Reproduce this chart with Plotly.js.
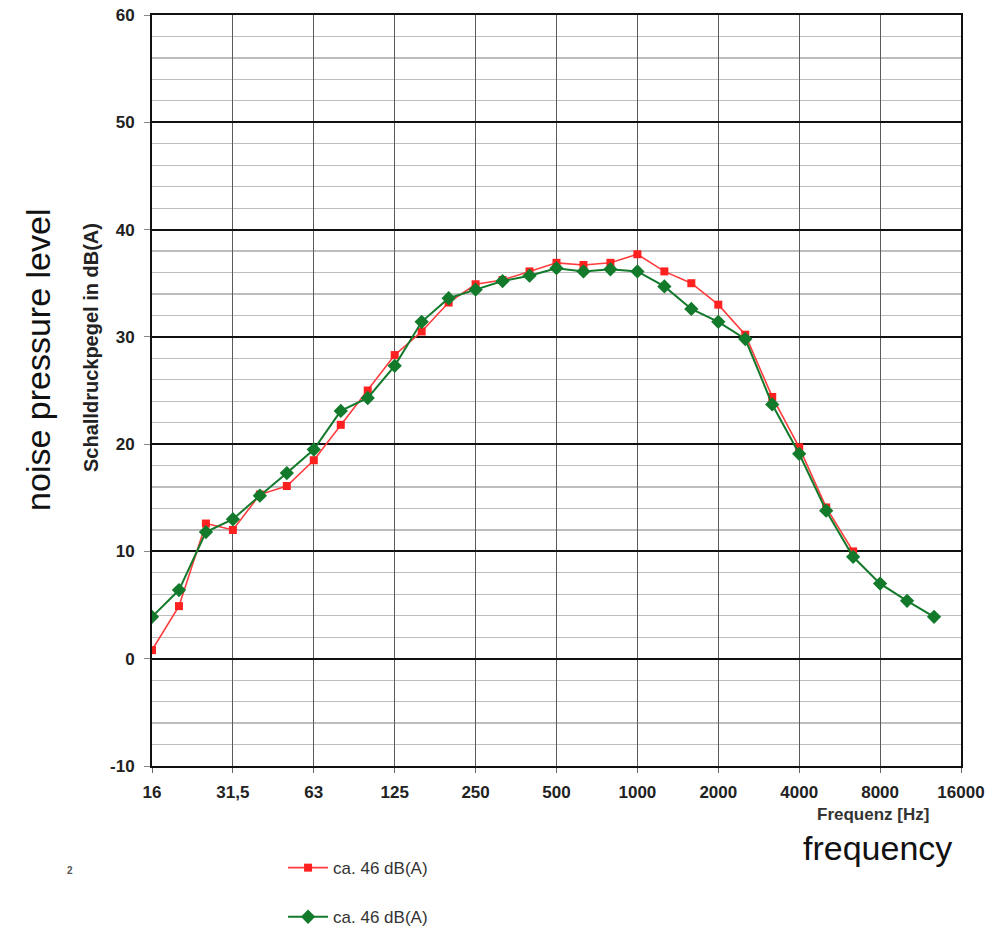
<!DOCTYPE html>
<html>
<head>
<meta charset="utf-8">
<script src="https://cdn.plot.ly/plotly-3.0.1.min.js"></script>
<style>
html,body{margin:0;padding:0;background:#fff;}
#chart{width:1006px;height:928px;}
</style>
</head>
<body>
<div id="chart"></div>
<script>
// Third-octave band centres (category axis, equally spaced like the original)
const bands = ["16","20","25","31,5","40","50","63","80","100","125","160","200","250","315","400","500","630","800","1000","1250","1600","2000","2500","3150","4000","5000","6300","8000","10000","12500","16000"];
const octaveTicks = ["16","31,5","63","125","250","500","1000","2000","4000","8000","16000"];
const yTickVals = [-10,0,10,20,30,40,50,60];
const yTickText = ["-10","0","10","20","30","40","50","60"];

const redName = "ca. 46 dB(A)";
const redValues = [0.8,4.9,12.6,12.0,15.3,16.1,18.5,21.8,25.0,28.3,30.5,33.2,34.9,35.3,36.1,36.9,36.7,36.9,37.7,36.1,35.0,33.0,30.2,24.4,19.7,14.1,10.0];

const greenName = "ca. 46 dB(A)";
const greenValues = [3.9,6.4,11.8,13.0,15.2,17.3,19.5,23.1,24.3,27.3,31.4,33.6,34.4,35.2,35.7,36.4,36.1,36.3,36.1,34.7,32.6,31.4,29.8,23.7,19.1,13.8,9.5,7.0,5.4,3.9];

const FONT = "Liberation Sans, Arial, sans-serif";

const traces = [
  {
    x: bands.slice(0, redValues.length), y: redValues, name: redName,
    type: "scatter", mode: "lines+markers", legendgroup: "a",
    line: {color: "#ff3b3b", width: 1.6},
    marker: {symbol: "square", size: 8, color: "#ff2020"}
  },
  {
    x: bands.slice(0, greenValues.length), y: greenValues, name: greenName,
    type: "scatter", mode: "lines+markers", legendgroup: "b",
    line: {color: "#137a2c", width: 2},
    marker: {symbol: "diamond", size: 11, color: "#137a2c"}
  }
];

const layout = {
  width: 1006, height: 928,
  margin: {l: 152, r: 45, t: 15, b: 162, autoexpand: false},
  paper_bgcolor: "#fff", plot_bgcolor: "#fff",
  font: {family: FONT, color: "#222"},
  showlegend: true,
  legend: {
    x: 0.162, y: -0.112, xanchor: "left", yanchor: "top",
    itemwidth: 40,
    tracegroupgap: 24, font: {size: 17, color: "#333", family: FONT},
    bgcolor: "rgba(0,0,0,0)"
  },
  xaxis: {
    type: "category", categoryorder: "array", categoryarray: bands,
    range: [0, bands.length - 1],
    tickmode: "array", tickvals: octaveTicks, ticktext: octaveTicks,
    showgrid: true, gridcolor: "#5a5a5a", gridwidth: 1,
    ticks: "outside", ticklen: 5, tickcolor: "#666",
    ticklabelstandoff: 5,
    tickfont: {size: 17, color: "#222", family: FONT, weight: "bold"},
    showline: true, linecolor: "#111", linewidth: 2, mirror: true,
    zeroline: false
  },
  yaxis: {
    range: [-10, 60],
    tickmode: "array", tickvals: yTickVals, ticktext: yTickText,
    showgrid: true, gridcolor: "#111", gridwidth: 2,
    minor: {dtick: 2, tick0: 0, showgrid: true, gridcolor: "#bdbdbd", gridwidth: 1.2},
    ticks: "outside", ticklen: 6, tickcolor: "#888",
    ticklabelstandoff: 6,
    tickfont: {size: 17, color: "#222", family: FONT, weight: "bold"},
    showline: true, linecolor: "#111", linewidth: 2, mirror: true,
    zeroline: false
  },
  annotations: [
    {text: "Schalldruckpegel in dB(A)", xref: "paper", yref: "paper", x: -0.0754, y: 0.5566,
     xanchor: "center", yanchor: "middle", showarrow: false, textangle: -90,
     font: {size: 20, color: "#222", family: FONT, weight: "bold"}},
    {text: "Frequenz [Hz]", xref: "paper", yref: "paper", x: 0.891, y: -0.0645,
     xanchor: "center", yanchor: "middle", showarrow: false,
     font: {size: 17, color: "#333", family: FONT, weight: "bold"}},
    {text: "frequency", xref: "paper", yref: "paper", x: 0.897, y: -0.109,
     xanchor: "center", yanchor: "middle", showarrow: false,
     font: {size: 34, color: "#111", family: FONT}},
    {text: "noise pressure level", xref: "paper", yref: "paper", x: -0.141, y: 0.5406,
     xanchor: "center", yanchor: "middle", showarrow: false, textangle: -90,
     font: {size: 34, color: "#111", family: FONT}},
    {text: "2", xref: "paper", yref: "paper", x: -0.101, y: -0.1385,
     xanchor: "center", yanchor: "middle", showarrow: false,
     font: {size: 10, color: "#555", family: FONT, weight: "bold"}}
  ]
};

Plotly.newPlot("chart", traces, layout, {displayModeBar: false, staticPlot: true});
</script>
</body>
</html>
